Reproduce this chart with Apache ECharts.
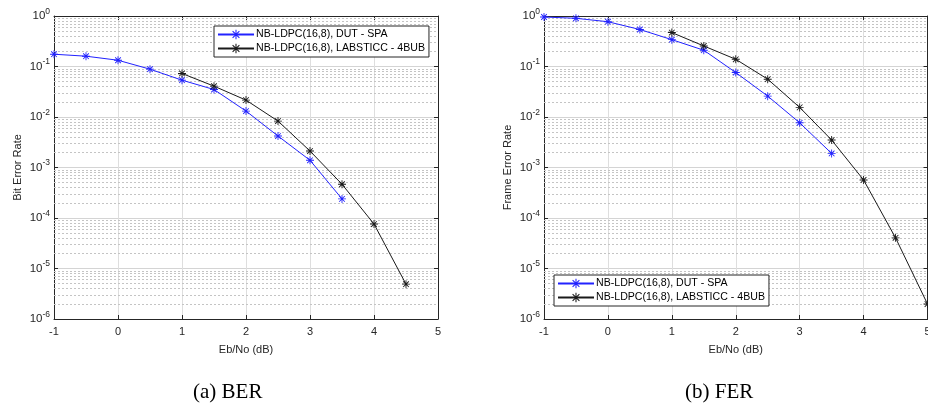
<!DOCTYPE html>
<html>
<head>
<meta charset="utf-8">
<script src="https://cdn.jsdelivr.net/npm/echarts@6/dist/echarts.min.js"></script>
<style>
html,body{margin:0;padding:0;background:#fff;}
#c{width:928px;height:411px;}
</style>
</head>
<body>
<div id="c"></div>
<script>
// ---- data ----
const dutX = [-1, -0.5, 0, 0.5, 1, 1.5, 2, 2.5, 3, 3.5];
const berDut = [0.175, 0.16, 0.133, 0.0885, 0.0536, 0.035, 0.0131, 0.0042, 0.00139, 0.000239];
const labX = [1, 1.5, 2, 2.5, 3, 3.5, 4, 4.5];
const berLab = [0.0728, 0.0408, 0.0216, 0.0083, 0.00212, 0.000466, 0.000076, 0.0000049];
const ferLabX = [1, 1.5, 2, 2.5, 3, 3.5, 4, 4.5, 5];
const ferDut = [0.955, 0.90, 0.77, 0.54, 0.34, 0.21, 0.076, 0.0259, 0.00768, 0.0019];
const ferLab = [0.47, 0.255, 0.139, 0.056, 0.0155, 0.0035, 0.000566, 0.0000405, 0.00000198];
const xTicks = [-1, 0, 1, 2, 3, 4, 5];
const seriesNames = ['NB-LDPC(16,8), DUT - SPA', 'NB-LDPC(16,8), LABSTICC - 4BUB'];
const yNames = ['Bit Error Rate', 'Frame Error Rate'];
const xName = 'Eb/No (dB)';
const captions = ['(a) BER', '(b) FER'];

// ---- style helpers ----
function asteriskPath() {
  const hl = 1, hw = 0.11;
  let d = '';
  [0, 45, 90, 135].forEach(a => {
    const r = a * Math.PI / 180, c = Math.cos(r), s = Math.sin(r);
    const pts = [[-hl, -hw], [hl, -hw], [hl, hw], [-hl, hw]].map(p =>
      [(p[0] * c - p[1] * s + 1).toFixed(4), (p[0] * s + p[1] * c + 1).toFixed(4)]);
    d += 'M' + pts[0].join(' ') + 'L' + pts[1].join(' ') + 'L' + pts[2].join(' ') + 'L' + pts[3].join(' ') + 'Z';
  });
  return 'path://' + d;
}
const STAR = asteriskPath();
const AX = '#262626';
const FONT = 'Liberation Sans, Arial, sans-serif';
const BLUE = '#2222ff';
const BLACK = '#1a1a1a';

const minorVals = [];
for (let e = -6; e < 0; e++) for (let k = 2; k <= 9; k++) minorVals.push(k * Math.pow(10, e));

const zip = (xs, ys) => ys.map((y, i) => [xs[i], y]);

const grids = [
  { left: 54, top: 16, width: 384, height: 303, outerBoundsMode: 'none', containLabel: false },
  { left: 544, top: 16, width: 383.5, height: 303, outerBoundsMode: 'none', containLabel: false }
];

const xAxes = [], yAxes = [], series = [];
grids.forEach((g, i) => {
  xAxes.push({
    type: 'value', gridIndex: i, min: -1, max: 5, interval: 1, position: 'bottom',
    name: xName, nameLocation: 'middle', nameGap: 25,
    nameTextStyle: { fontFamily: FONT, fontSize: 11, color: AX },
    axisLine: { onZero: false, lineStyle: { color: AX, width: 1 } },
    axisTick: { inside: true, length: 4, lineStyle: { color: AX } },
    axisLabel: { fontFamily: FONT, fontSize: 11, color: AX, margin: 7,
      formatter: v => xTicks.indexOf(v) >= 0 ? String(v) : '' },
    splitLine: { show: true, lineStyle: { color: '#dedede', width: 1 } }
  });
  xAxes.push({
    type: 'value', gridIndex: i, min: -1, max: 5, interval: 1, position: 'top',
    axisLine: { onZero: false, lineStyle: { color: AX, width: 1 } },
    axisTick: { inside: true, length: 4, lineStyle: { color: AX } },
    axisLabel: { show: false }, splitLine: { show: false }
  });
  yAxes.push({
    type: 'log', logBase: 10, gridIndex: i, min: 1e-6, max: 1, position: 'left',
    name: yNames[i], nameLocation: 'middle', nameGap: 31, nameRotate: 90,
    nameTextStyle: { fontFamily: FONT, fontSize: 11, color: AX },
    axisLine: { show: true, onZero: false, lineStyle: { color: AX, width: 1 } },
    axisTick: { show: true, inside: true, length: 4, lineStyle: { color: AX } },
    axisLabel: {
      margin: 4, color: AX,
      formatter: v => '{b|10}{s|' + Math.round(Math.log10(v)) + '}',
      rich: {
        b: { fontFamily: FONT, fontSize: 11.5, color: AX },
        s: { fontFamily: FONT, fontSize: 8.5, color: AX, padding: [0, 0, 9, 0] }
      }
    },
    splitLine: { show: true, lineStyle: { color: '#d4d4d4', width: 1 } }
  });
  yAxes.push({
    type: 'log', logBase: 10, gridIndex: i, min: 1e-6, max: 1, position: 'right',
    axisLine: { show: true, onZero: false, lineStyle: { color: AX, width: 1 } },
    axisTick: { show: true, inside: true, length: 4, lineStyle: { color: AX } },
    axisLabel: { show: false }, splitLine: { show: false }
  });
});

function lineSeries(name, data, gi, color) {
  return {
    type: 'line', name: name, data: data,
    xAxisIndex: gi * 2, yAxisIndex: gi * 2,
    symbol: STAR, symbolSize: 8, showSymbol: true,
    itemStyle: { color: color },
    lineStyle: { color: color, width: 1, type: 'solid' },
    emphasis: { disabled: true }, animation: false, z: 3
  };
}

function minorGridSeries(gi) {
  return {
    type: 'line', name: 'minor-grid-' + gi, data: [],
    xAxisIndex: gi * 2, yAxisIndex: gi * 2, z: 1, animation: false, silent: true,
    markLine: {
      z: 1, zlevel: 0,
      silent: true, symbol: 'none', label: { show: false }, animation: false,
      lineStyle: { type: [2, 2], color: '#c4c4c4', width: 1 },
      data: minorVals.map(v => [{ coord: [-1, v] }, { coord: [5, v] }])
    }
  };
}

series.push(minorGridSeries(0));
series.push(minorGridSeries(1));
series.push(lineSeries(seriesNames[0], zip(dutX, berDut), 0, BLUE));
series.push(lineSeries(seriesNames[1], zip(labX, berLab), 0, BLACK));
series.push(lineSeries(seriesNames[0], zip(dutX, ferDut), 1, BLUE));
series.push(lineSeries(seriesNames[1], zip(ferLabX, ferLab), 1, BLACK));

const legendCommon = {
  orient: 'vertical', data: seriesNames,
  backgroundColor: '#fff', borderColor: AX, borderWidth: 1, z: 10,
  padding: [3, 4, 3, 3], itemGap: 3, itemWidth: 36, itemHeight: 12,
  textStyle: { fontFamily: FONT, fontSize: 10.6, color: '#000', padding: [0, 0, 0, -3] },
  selectedMode: false
};

const chart = echarts.init(document.getElementById('c'), null, { renderer: 'canvas' });
chart.setOption({
  backgroundColor: '#fff',
  animation: false,
  grid: grids,
  xAxis: xAxes,
  yAxis: yAxes,
  legend: [
    Object.assign({ left: 214, top: 26 }, legendCommon),
    Object.assign({ left: 554, top: 275 }, legendCommon)
  ],
  series: series,
  graphic: [
    { type: 'text', left: 193, top: 382, style: { text: captions[0], font: '21px "Liberation Serif", "DejaVu Serif", serif', fill: '#000' } },
    { type: 'text', left: 685, top: 382, style: { text: captions[1], font: '21px "Liberation Serif", "DejaVu Serif", serif', fill: '#000' } }
  ]
});
</script>
</body>
</html>
